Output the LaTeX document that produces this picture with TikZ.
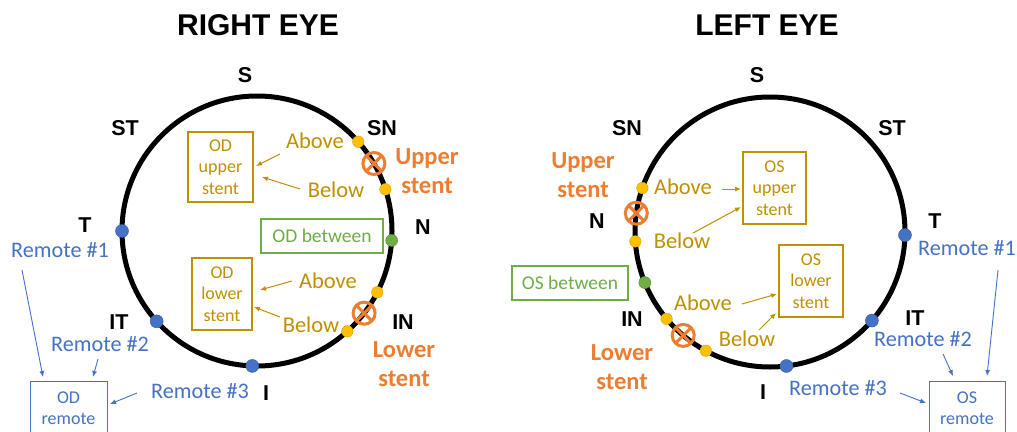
\documentclass[tikz,border=0pt]{standalone}
\usepackage{fontspec}
\setmainfont{Carlito}
\newfontfamily\hel{Liberation Sans}
\usetikzlibrary{calc,arrows.meta}
\definecolor{gold}{HTML}{BF9000}
\definecolor{dotyel}{HTML}{FFC000}
\definecolor{orng}{HTML}{ED7D31}
\definecolor{blu}{HTML}{4472C4}
\definecolor{grn}{HTML}{70AD47}
\tikzset{
  lbl/.style={font=\hel\bfseries\fontsize{21.5}{21.5}\selectfont, text=black, inner sep=0},
  ttl/.style={font=\hel\bfseries\fontsize{30}{30}\selectfont, text=black, inner sep=0},
  stentlbl/.style={font=\bfseries\fontsize{24.5}{28.5}\selectfont, text=orng, inner sep=0, align=center},
  gtxt/.style={font=\fontsize{22.5}{22.5}\selectfont, text=gold, inner sep=0},
  btxt/.style={font=\fontsize{22.2}{22.2}\selectfont, text=blu, inner sep=0},
  gbox/.style={draw=gold, line width=1.1pt, text=gold, font=\fontsize{18}{21.5}\selectfont, align=center, inner sep=0},
  grbox/.style={draw=grn, line width=1.1pt, text=grn, font=\fontsize{19.5}{21}\selectfont, align=center, inner sep=0},
  bbox/.style={draw=blu, line width=1.1pt, text=blu, align=center, inner sep=0},
  rtxt/.style={text=blu, font=\fontsize{18}{21}\selectfont, align=center, inner sep=0},
  bdot/.style={circle, fill=blu, draw=blu!80!black, line width=0.4pt, minimum size=13pt, inner sep=0},
  ydot/.style={circle, fill=dotyel, draw=dotyel!85!black, line width=0.4pt, minimum size=11.5pt, inner sep=0},
  gdot/.style={circle, fill=grn, draw=grn!80!black, line width=0.4pt, minimum size=12pt, inner sep=0},
  eye/.style={line width=5pt, black},
  xmark/.style={draw=orng, line width=3pt},
  garrow/.style={draw=gold, line width=1pt, -{Latex[length=6pt,width=5pt]}},
  barrow/.style={draw=blu, line width=0.9pt, -{Latex[length=6pt,width=5pt]}},
}
\begin{document}
\begin{tikzpicture}[x=1pt,y=-1pt]
\clip (0,0) rectangle (1017,431);
\fill[white] (0,0) rectangle (1017,431);
% ================= RIGHT EYE =================
\coordinate (cR) at (257,231);
\draw[eye] (cR) circle (135pt);
\node[ttl] (tR) at (258,25) {RIGHT EYE};
\node[lbl] (rS) at (245,75) {S};
\node[lbl] (rST) at (125,128) {ST};
\node[lbl] (rSN) at (382,128) {SN};
\node[lbl] (rT) at (85,225) {T};
\node[lbl] (rN) at (423,227) {N};
\node[lbl] (rIT) at (119,322) {IT};
\node[lbl] (rIN) at (403,322) {IN};
\node[lbl] (rI) at (266,393) {I};
% stent markers
\coordinate (rXU) at ($(cR)+(30:135pt)$);
\coordinate (rXL) at ($(cR)+(-37.5:135pt)$);
\draw[xmark] (rXU) circle (11pt) ($(rXU)+(45:11pt)$) -- ($(rXU)+(225:11pt)$) ($(rXU)+(135:11pt)$) -- ($(rXU)+(315:11pt)$);
\draw[xmark] (rXL) circle (11pt) ($(rXL)+(45:11pt)$) -- ($(rXL)+(225:11pt)$) ($(rXL)+(135:11pt)$) -- ($(rXL)+(315:11pt)$);
% dots
\node[bdot] (rdT) at ($(cR)+(180:135pt)$) {};
\node[bdot] (rdIT) at ($(cR)+(222:135pt)$) {};
\node[bdot] (rdI) at ($(cR)+(268:135pt)$) {};
\node[ydot] (rdUA) at ($(cR)+(41.4:135pt)$) {};
\node[ydot] (rdUB) at ($(cR)+(18:135pt)$) {};
\node[gdot] (rdN) at ($(cR)+(-4:135pt)$) {};
\node[ydot] (rdLA) at ($(cR)+(-27:135pt)$) {};
\node[ydot] (rdLB) at ($(cR)+(-48:135pt)$) {};
% stent labels
\node[stentlbl] (rUp) at (427,171) {Upper\\stent};
\node[stentlbl] (rLo) at (404,364) {Lower\\stent};
% boxes
\node[gbox, minimum width=65pt, minimum height=70pt] (ODU) at (220.5,167) {OD\\upper\\stent};
\node[grbox, minimum width=122pt, minimum height=34pt] (ODB) at (322,236) {OD between};
\node[gbox, minimum width=60pt, minimum height=72pt] (ODL) at (222,294) {OD\\lower\\stent};
\node[bbox, minimum width=77pt, minimum height=56pt, anchor=north west] (ODR) at (30,381) {};
\node[rtxt] (ODRt) at (68.5,408) {OD\\remote};
% above / below
\node[gtxt] (rAU) at (315,141) {Above};
\node[gtxt] (rBU) at (336,190) {Below};
\node[gtxt] (rAL) at (328,281) {Above};
\node[gtxt] (rBL) at (311,325) {Below};
\coordinate (a1s) at (280,154); \coordinate (a1e) at (256,166);
\coordinate (a2s) at (300,189); \coordinate (a2e) at (262,177);
\coordinate (a3s) at (292,281); \coordinate (a3e) at (260,290);
\coordinate (a4s) at (280,317); \coordinate (a4e) at (254,307);
\draw[garrow] (a1s) -- (a1e);
\draw[garrow] (a2s) -- (a2e);
\draw[garrow] (a3s) -- (a3e);
\draw[garrow] (a4s) -- (a4e);
% remotes
\node[btxt] (rR1) at (60,250) {Remote \#1};
\node[btxt] (rR2) at (100,344) {Remote \#2};
\node[btxt] (rR3) at (200,391) {Remote \#3};
\coordinate (b1s) at (22,270); \coordinate (b1e) at (43,377);
\coordinate (b2s) at (98,359); \coordinate (b2e) at (93,377);
\coordinate (b3s) at (137,393); \coordinate (b3e) at (110,404);
\draw[barrow] (b1s) -- (b1e);
\draw[barrow] (b2s) -- (b2e);
\draw[barrow] (b3s) -- (b3e);
% ================= LEFT EYE =================
\coordinate (cL) at (770,232);
\draw[eye] (cL) circle (135pt);
\node[ttl] (tL) at (767,25) {LEFT EYE};
\node[lbl] (lS) at (757,75) {S};
\node[lbl] (lSN) at (627,128) {SN};
\node[lbl] (lST) at (892,128) {ST};
\node[lbl] (lN) at (597,221) {N};
\node[lbl] (lT) at (935,221) {T};
\node[lbl] (lIN) at (632,319) {IN};
\node[lbl] (lIT) at (915,318) {IT};
\node[lbl] (lI) at (763,392) {I};
\coordinate (lXU) at ($(cL)+(172:135pt)$);
\coordinate (lXL) at ($(cL)+(230:135pt)$);
\draw[xmark] (lXU) circle (11pt) ($(lXU)+(45:11pt)$) -- ($(lXU)+(225:11pt)$) ($(lXU)+(135:11pt)$) -- ($(lXU)+(315:11pt)$);
\draw[xmark] (lXL) circle (11pt) ($(lXL)+(45:11pt)$) -- ($(lXL)+(225:11pt)$) ($(lXL)+(135:11pt)$) -- ($(lXL)+(315:11pt)$);
\node[ydot] (ldUA) at ($(cL)+(161:135pt)$) {};
\node[ydot] (ldUB) at ($(cL)+(184:135pt)$) {};
\node[gdot] (ldN) at ($(cL)+(202:135pt)$) {};
\node[ydot] (ldLA) at ($(cL)+(220:135pt)$) {};
\node[ydot] (ldLB) at ($(cL)+(241.6:135pt)$) {};
\node[bdot] (ldI) at ($(cL)+(277:135pt)$) {};
\node[bdot] (ldIT) at ($(cL)+(319:135pt)$) {};
\node[bdot] (ldT) at ($(cL)+(358.7:135pt)$) {};
\node[stentlbl] (lUp) at (583,175) {Upper\\stent};
\node[stentlbl] (lLo) at (622,367) {Lower\\stent};
\node[gbox, minimum width=63pt, minimum height=72pt] (OSU) at (774.5,188) {OS\\upper\\stent};
\node[gbox, minimum width=64pt, minimum height=72pt] (OSL) at (811,281) {OS\\lower\\stent};
\node[grbox, minimum width=116pt, minimum height=34pt] (OSB) at (570,283) {OS between};
\node[bbox, minimum width=76pt, minimum height=56pt, anchor=north west] (OSR) at (929,381) {};
\node[rtxt] (OSRt) at (967,408) {OS\\remote};
\node[gtxt] (lAU) at (683,187) {Above};
\node[gtxt] (lBU) at (682,241) {Below};
\node[gtxt] (lAL) at (703,303) {Above};
\node[gtxt] (lBL) at (747,339) {Below};
\coordinate (c1s) at (722,189); \coordinate (c1e) at (741,189);
\coordinate (c2s) at (693,233); \coordinate (c2e) at (741,207);
\coordinate (c3s) at (742,304); \coordinate (c3e) at (777,294);
\coordinate (c4s) at (759,330); \coordinate (c4e) at (776,313);
\draw[garrow] (c1s) -- (c1e);
\draw[garrow] (c2s) -- (c2e);
\draw[garrow] (c3s) -- (c3e);
\draw[garrow] (c4s) -- (c4e);
\node[btxt] (lR1) at (967,248) {Remote \#1};
\node[btxt] (lR2) at (923,339) {Remote \#2};
\node[btxt] (lR3) at (838,388) {Remote \#3};
\coordinate (d1s) at (998,270); \coordinate (d1e) at (987,376);
\coordinate (d2s) at (943,354); \coordinate (d2e) at (953,376);
\coordinate (d3s) at (900,393); \coordinate (d3e) at (926,403);
\draw[barrow] (d1s) -- (d1e);
\draw[barrow] (d2s) -- (d2e);
\draw[barrow] (d3s) -- (d3e);
\end{tikzpicture}
\end{document}
